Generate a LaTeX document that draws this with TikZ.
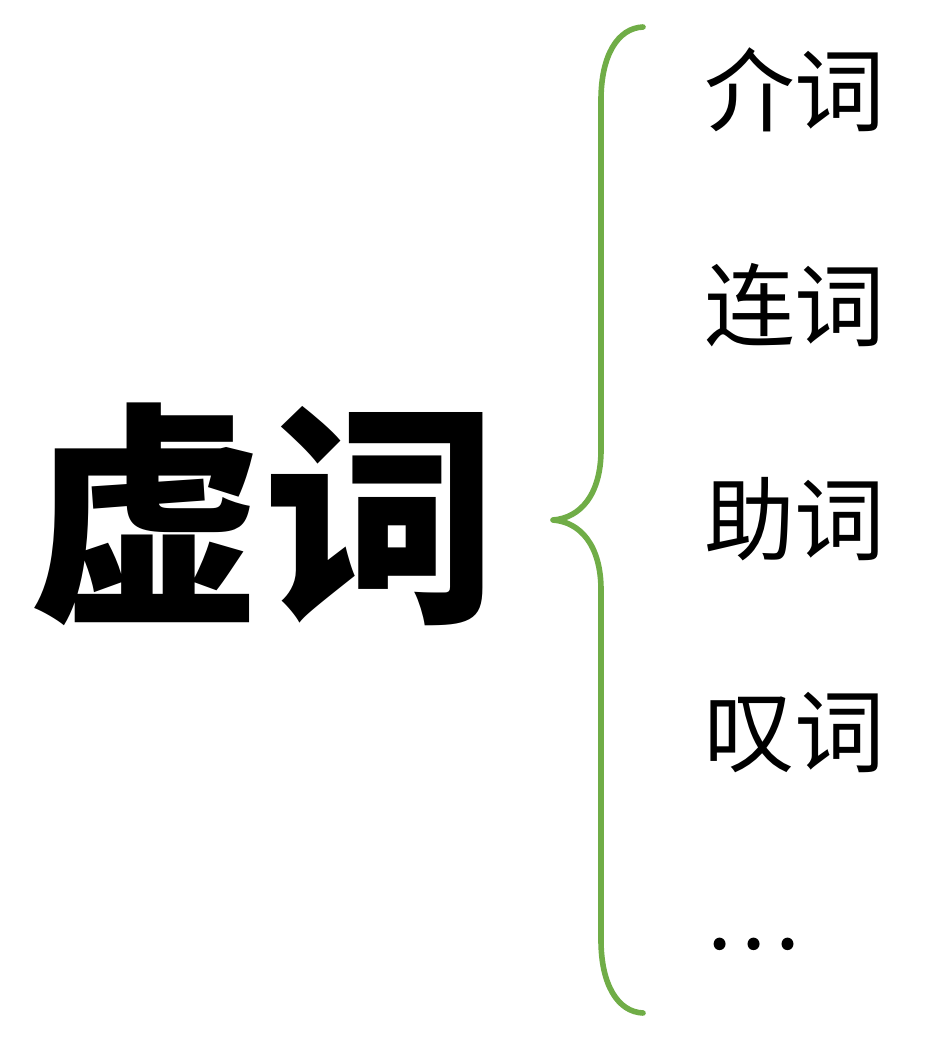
\documentclass[tikz,border=0pt]{standalone}
\usepackage{fontspec}
\newfontfamily\cjk{Noto Sans CJK SC}
\definecolor{bracegreen}{HTML}{70AD47}
\begin{document}
\begin{tikzpicture}[x=0.75pt,y=-0.75pt,
  bigword/.style={inner sep=0pt,font=\cjk\bfseries\fontsize{176}{176}\selectfont},
  item/.style={inner sep=0pt,anchor=west,font=\cjk\fontsize{68}{68}\selectfont},
  bracestyle/.style={draw=bracegreen,line width=4.2pt,line cap=round,line join=round}]
\useasboundingbox (0,0) rectangle (948,1046);
\node[bigword] (main) at (263,514) {虚词};
\node[item] (i1) at (704,90) {介词};
\node[item] (i2) at (704,305) {连词};
\node[item] (i3) at (704,519) {助词};
\node[item] (i4) at (704,733) {叹词};
\node[item] (i5) at (704,944) {…};
\coordinate (btop) at (643,27);
\coordinate (bmid) at (553,520);
\coordinate (bbot) at (643,1013);
\draw[bracestyle] (btop) .. controls (618,28) and (601,55) .. (601,100)
  -- (601,450) .. controls (601,495) and (580,518) .. (bmid)
  .. controls (580,522) and (601,545) .. (601,590)
  -- (601,940) .. controls (601,985) and (618,1012) .. (bbot);
\end{tikzpicture}
\end{document}
